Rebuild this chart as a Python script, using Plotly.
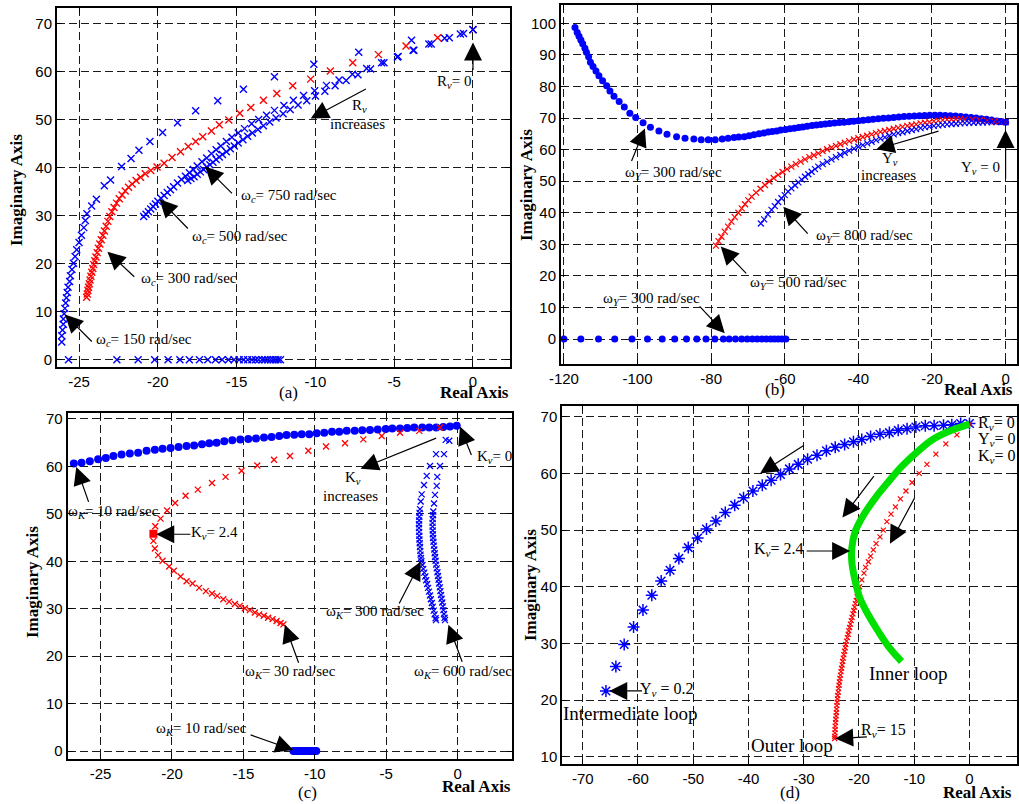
import plotly.graph_objects as go

W, H = 1019, 804
BLUE = '#0000ff'
RED = '#ff0000'
GREEN = '#00e000'

# ---------------- Panel (a) data ----------------
a150_re = [-26.1, -26.1, -26.05, -26.0, -26.0, -25.95, -25.9, -25.85, -25.8, -25.75, -25.7, -25.6, -25.55,
           -25.45, -25.35, -25.25, -25.15, -25.0, -24.85, -24.7, -24.6, -24.5, -24.2, -23.9, -23.4, -23.0,
           -22.3, -21.7, -21.2, -20.5, -19.7, -18.75, -17.6, -16.2, -14.57, -12.6, -10.1, -7.25, -3.9, 0.0]
a150_im = [3.7, 5.0, 6.2, 7.4, 8.5, 9.6, 10.7, 11.8, 12.9, 14.0, 15.1, 16.3, 17.5,
           18.8, 20.1, 21.5, 22.9, 24.4, 25.9, 27.5, 29.0, 30.4, 32.0, 33.4, 36.2, 37.4,
           40.2, 41.9, 43.6, 45.4, 47.3, 49.3, 51.8, 53.9, 56.3, 58.9, 61.5, 64.0, 66.5, 68.7]
a150_real_re = [-25.67, -22.6, -21.25, -20.2, -19.35, -18.6, -18.0, -17.36, -16.83, -16.34, -15.92, -15.52,
                -15.16, -14.84, -14.55, -14.3, -14.03, -13.8, -13.6, -13.38, -13.2, -13.02, -12.85, -12.69,
                -12.52, -12.37, -12.22]
a300_re = [-24.52, -24.48, -24.44, -24.40, -24.35, -24.30, -24.25, -24.19, -24.13, -24.07, -24.0, -23.93,
           -23.85, -23.77, -23.68, -23.59, -23.49, -23.39, -23.28, -23.17, -23.05, -22.92, -22.78, -22.62,
           -22.45, -22.27, -22.07, -21.86, -21.63, -21.38, -21.1, -20.8, -20.45, -20.05, -19.6, -19.1,
           -18.56, -18.07, -17.6, -17.15, -16.6, -16.1, -15.5, -14.8, -14.1, -13.3, -12.45, -11.44, -10.3,
           -9.05, -7.63, -6.0, -4.25, -2.24, 0.0]
a300_im = [13.0, 13.7, 14.4, 15.1, 15.8, 16.6, 17.4, 18.2, 19.0, 19.8, 20.6, 21.4,
           22.3, 23.2, 24.1, 25.0, 25.9, 26.8, 27.8, 28.8, 29.8, 30.8, 31.7, 32.6,
           33.5, 34.3, 35.1, 35.9, 36.6, 37.3, 38.0, 38.7, 39.4, 40.1, 40.9, 42.1,
           43.3, 44.4, 45.4, 46.4, 47.6, 48.9, 49.9, 51.3, 52.5, 54.0, 55.4, 57.0, 58.4,
           60.1, 61.8, 63.5, 65.3, 67.0, 68.7]
a500_re = [-20.9, -20.75, -20.6, -20.45, -20.3, -20.15, -20.0, -19.8, -19.6, -19.4, -19.2, -19.0, -18.75,
           -18.5, -18.25, -18.0, -17.75, -17.5, -17.2, -16.9, -16.6, -16.3, -16.0, -15.65, -15.3, -14.9,
           -14.5, -14.05, -13.6, -13.1, -12.6, -12.0, -11.4, -10.75, -10.05, -9.3, -8.5, -7.65, -6.75,
           -5.8, -4.8, -3.75, -2.65, -1.5, -0.6, 0.0]
a500_im = [29.8, 30.3, 30.8, 31.4, 31.9, 32.4, 33.0, 33.6, 34.2, 34.8, 35.4, 36.0, 36.8,
           37.5, 38.2, 38.9, 39.6, 40.3, 41.2, 42.0, 42.9, 43.7, 44.5, 45.4, 46.3, 47.2,
           48.1, 49.1, 50.0, 50.9, 51.9, 52.9, 54.0, 55.0, 56.0, 57.1, 58.2, 59.4, 60.6,
           61.8, 63.0, 64.4, 65.7, 67.0, 67.9, 68.7]
a750_re = [-18.1, -17.9, -17.7, -17.5, -17.3, -17.1, -16.9, -16.7, -16.5, -16.3, -16.1, -15.9, -15.65,
           -15.4, -15.15, -14.9, -14.6, -14.3, -14.0, -13.65, -13.3, -12.9, -12.5, -12.05, -11.6, -11.1,
           -10.55, -10.0, -9.4, -8.75, -8.05, -7.3, -6.5, -5.65, -4.75, -3.8, -2.8, -1.8, -0.8, 0.0]
a750_im = [37.3, 37.7, 38.1, 38.6, 39.1, 39.6, 40.1, 40.6, 41.1, 41.7, 42.2, 42.7, 43.3,
           43.9, 44.5, 45.1, 45.8, 46.5, 47.2, 47.9, 48.7, 49.5, 50.3, 51.2, 52.1, 53.0,
           53.9, 54.9, 55.9, 57.0, 58.1, 59.3, 60.5, 61.8, 63.1, 64.4, 65.7, 66.9, 67.8, 68.7]

# ---------------- Panel (b) data ----------------
b300_re = [-117.0, -116.4, -115.9, -115.4, -114.9, -114.3, -113.9, -113.3, -112.8, -112.1, -111.3, -110.5,
           -109.5, -108.4, -107.5, -106.4, -105.0, -103.6, -102.1, -100.5, -98.5, -96.5, -94.2, -92.0,
           -89.4, -87.1, -84.7, -82.7, -80.8, -78.9, -77.0, -75.4, -73.8, -72.5, -71.0, -69.7, -68.4,
           -67.0, -65.7, -64.5, -63.4, -62.2, -61.1, -59.8, -58.6, -57.4, -56.2, -55.1, -53.9, -52.6,
           -51.4, -50.2, -49.0, -47.8, -46.5, -45.2, -43.9, -42.6, -41.3, -40.0, -38.7, -37.3, -36.0,
           -34.6, -33.2, -31.8, -30.4, -29.0, -27.6, -26.2, -24.8, -23.4, -22.0, -20.6, -19.2, -17.8,
           -16.4, -15.0, -13.6, -12.2, -10.8, -9.4, -8.0, -6.6, -5.2, -3.8, -2.4, -1.2, 0.0]
b300_im = [98.7, 97.1, 95.9, 94.7, 93.5, 92.1, 90.8, 89.4, 87.7, 86.3, 84.9, 83.4,
           81.8, 80.2, 78.6, 76.9, 75.2, 73.5, 71.5, 70.2, 68.5, 67.1, 65.9, 64.9,
           64.1, 63.6, 63.4, 63.1, 63.1, 63.1, 63.4, 63.6, 63.8, 64.0, 64.1, 64.4, 64.7,
           65.0, 65.3, 65.6, 65.7, 65.9, 66.2, 66.4, 66.6, 66.8, 67.0, 67.2, 67.4, 67.6,
           67.8, 67.95, 68.1, 68.25, 68.4, 68.55, 68.7, 68.85, 69.0, 69.15, 69.3, 69.45, 69.6,
           69.75, 69.9, 70.05, 70.2, 70.35, 70.45, 70.55, 70.65, 70.75, 70.8, 70.85, 70.85, 70.85,
           70.8, 70.75, 70.65, 70.5, 70.35, 70.2, 70.0, 69.8, 69.6, 69.35, 69.1, 68.9, 68.7]
b300_real_re = [-120.0, -115.4, -110.6, -106.2, -101.5, -97.3, -93.3, -89.9, -86.7, -83.9, -81.4, -79.0,
                -76.7, -75.1, -73.4, -71.7, -70.2, -68.8, -67.5, -66.2, -65.0, -63.8, -62.8, -61.8,
                -60.8, -59.7]
b500_re = [-78.7, -78.0, -77.2, -76.3, -75.4, -74.5, -73.6, -72.6, -71.7, -70.8, -69.9, -69.0, -67.8,
           -66.6, -65.4, -64.2, -63.0, -61.8, -60.6, -59.4, -58.2, -57.0, -55.7, -54.5, -53.3, -52.1,
           -50.9, -49.7, -48.5, -47.3, -46.1, -44.9, -43.7, -42.5, -41.2, -40.0, -38.8, -37.6, -36.4,
           -35.2, -34.0, -32.8, -31.6, -30.4, -29.2, -28.0, -26.7, -25.5, -24.3, -23.1, -21.9, -20.7,
           -19.5, -18.3, -17.1, -15.9, -14.7, -13.5, -12.3, -11.1, -9.0, -7.0, -5.0, -3.0, -1.5, 0.0]
b500_im = [29.6, 31.0, 32.4, 34.0, 35.6, 37.2, 38.6, 40.0, 41.4, 42.7, 43.9, 45.1, 46.4,
           47.6, 48.8, 49.9, 51.0, 52.0, 52.9, 53.8, 54.6, 55.4, 56.2, 56.9, 57.6, 58.2,
           58.8, 59.5, 60.1, 60.7, 61.2, 61.7, 62.2, 62.7, 63.2, 63.6, 64.0, 64.4, 64.8,
           65.2, 65.6, 65.9, 66.2, 66.6, 66.9, 67.2, 67.5, 67.8, 68.0, 68.3, 68.5, 68.7,
           69.0, 69.2, 69.35, 69.5, 69.6, 69.65, 69.7, 69.6, 69.5, 69.3, 69.1, 68.9, 68.8, 68.7]
b800_re = [-66.5, -65.6, -64.6, -63.6, -62.7, -61.8, -60.9, -60.0, -59.1, -58.2, -57.2, -56.3, -55.4,
           -54.5, -53.6, -52.7, -51.8, -50.9, -49.7, -48.5, -47.3, -46.1, -44.9, -43.7, -42.5, -41.2,
           -40.0, -38.8, -37.6, -36.4, -35.2, -34.0, -32.8, -31.6, -30.4, -29.2, -28.0, -26.7, -25.5,
           -24.3, -23.1, -21.9, -20.7, -19.5, -18.3, -17.1, -15.9, -14.7, -13.5, -12.3, -11.1, -9.9,
           -8.7, -7.4, -6.2, -5.0, -3.8, -2.5, -1.2, 0.0]
b800_im = [36.6, 37.9, 39.5, 40.9, 42.1, 43.4, 44.6, 45.6, 46.7, 47.7, 48.7, 49.6, 50.5,
           51.4, 52.2, 53.0, 53.8, 54.6, 55.4, 56.1, 56.9, 57.6, 58.3, 59.0, 59.7, 60.3,
           60.9, 61.4, 62.0, 62.5, 63.0, 63.5, 63.9, 64.4, 64.8, 65.2, 65.5, 65.9, 66.2,
           66.5, 66.8, 67.1, 67.3, 67.5, 67.7, 67.85, 68.0, 68.1, 68.2, 68.3, 68.4, 68.45,
           68.5, 68.6, 68.6, 68.65, 68.7, 68.7, 68.75, 68.8]

# ---------------- Panel (c) data ----------------
c10_re = [-26.87, -26.33, -25.75, -25.17, -24.63, -24.1, -23.53, -22.95, -22.37, -21.78, -21.2, -20.66,
          -20.1, -19.54, -18.98, -18.45, -17.9, -17.39, -16.88, -16.34, -15.78, -15.22, -14.66, -14.12,
          -13.56, -13.03, -12.49, -11.98, -11.44, -10.92, -10.39, -9.87, -9.34, -8.8, -8.29, -7.77,
          -7.21, -6.68, -6.14, -5.6, -5.04, -4.58, -4.04, -3.53, -3.04, -2.48, -1.99, -1.5, -1.01,
          -0.54, -0.07]
c10_im = [60.6, 60.8, 61.1, 61.5, 61.8, 62.2, 62.5, 62.7, 62.9, 63.3, 63.5, 63.7,
          63.9, 64.1, 64.3, 64.4, 64.7, 64.9, 65.0, 65.3, 65.5, 65.7, 65.8, 65.9,
          66.1, 66.2, 66.4, 66.6, 66.7, 66.8, 66.8, 67.0, 67.1, 67.3, 67.3, 67.5,
          67.5, 67.6, 67.7, 67.8, 67.9, 68.0, 68.0, 68.1, 68.2, 68.2, 68.2, 68.2, 68.3,
          68.4, 68.6]
c10_real_re = [-11.5, -11.4, -11.3, -11.2, -11.1, -11.0, -10.9, -10.8, -10.7, -10.6, -10.5, -10.4,
               -10.3, -10.2, -10.1, -10.0, -9.9]
c30_re = [-1.24, -2.69, -4.04, -5.32, -6.61, -7.89, -9.22, -10.46, -11.74, -12.86, -14.03, -15.13,
          -16.25, -17.2, -18.19, -19.05, -19.78, -20.34, -20.8, -21.17, -21.3, -21.3, -21.2, -20.97,
          -20.66, -20.2, -19.87, -19.4, -18.98, -18.56, -18.1, -17.63, -17.2, -16.83, -16.41, -16.0,
          -15.6, -15.25, -14.9, -14.55, -14.2, -13.9, -13.57, -13.27, -12.96, -12.68, -12.4, -12.2]
c30_im = [68.2, 67.5, 67.1, 66.4, 65.7, 64.9, 64.2, 63.3, 62.2, 61.4, 60.2, 59.1,
          57.8, 56.5, 55.1, 53.8, 52.3, 50.7, 49.0, 47.4, 45.8, 44.3, 42.7, 41.3,
          40.1, 38.9, 38.0, 36.8, 35.8, 35.3, 34.4, 33.7, 33.2, 32.7, 32.0, 31.5,
          31.0, 30.6, 30.1, 29.7, 29.2, 28.8, 28.5, 28.1, 27.8, 27.4, 27.0, 26.7]
c_kv24_re = [-21.3]
c_kv24_im = [45.8]
c300_re = [-0.84, -1.52, -1.94, -2.17, -2.36, -2.52, -2.59, -2.64, -2.67, -2.69, -2.7, -2.71, -2.71,
           -2.7, -2.69, -2.68, -2.66, -2.64, -2.62, -2.6, -2.57, -2.54, -2.47, -2.41, -2.34, -2.27,
           -2.21, -2.14, -2.08, -2.01, -1.94, -1.88, -1.81, -1.75, -1.68, -1.62, -1.55, -1.52]
c300_im = [65.6, 62.6, 60.1, 58.0, 56.1, 54.1, 52.6, 51.0, 50.2, 49.4, 48.6, 47.8, 47.0,
           46.2, 45.4, 44.6, 43.8, 43.0, 42.2, 41.4, 40.7, 40.0, 39.2, 38.4, 37.6, 36.8,
           36.0, 35.2, 34.4, 33.6, 32.8, 32.0, 31.2, 30.4, 29.6, 28.8, 28.0, 27.6]
c600_re = [-0.59, -0.96, -1.24, -1.43, -1.47, -1.59, -1.66, -1.71, -1.73, -1.75, -1.76, -1.76, -1.75,
           -1.74, -1.72, -1.7, -1.67, -1.64, -1.61, -1.58, -1.55, -1.51, -1.47, -1.42, -1.38, -1.34,
           -1.3, -1.25, -1.21, -1.17, -1.13, -1.08, -1.04, -1.0, -0.96, -0.92, -0.89]
c600_im = [65.4, 62.6, 60.1, 57.8, 55.9, 54.0, 52.2, 50.5, 49.7, 48.9, 48.1, 47.3, 46.5,
           45.7, 44.9, 44.1, 43.3, 42.5, 41.7, 40.9, 40.1, 39.3, 38.5, 37.7, 36.9, 36.1,
           35.3, 34.5, 33.7, 32.9, 32.1, 31.3, 30.5, 29.7, 28.9, 28.1, 27.6]

# ---------------- Panel (d) data ----------------
d_int_re = [-65.8, -64.0, -62.5, -60.8, -59.1, -57.5, -55.8, -54.2, -52.6, -50.9, -49.2, -47.6, -45.9,
            -44.2, -42.5, -40.9, -39.2, -37.5, -35.9, -34.2, -32.6, -31.0, -29.3, -27.6, -25.9, -24.3,
            -22.6, -21.0, -19.5, -17.9, -16.2, -14.5, -12.9, -11.3, -9.7, -8.0, -6.4, -4.7, -3.2, -1.6, 0.0]
d_int_im = [21.6, 25.9, 29.8, 32.9, 35.9, 38.5, 41.0, 42.9, 45.0, 46.9, 48.6, 50.2, 51.6,
            53.1, 54.4, 55.7, 56.9, 57.9, 58.8, 59.8, 60.8, 61.6, 62.5, 63.2, 64.0, 64.6,
            65.1, 65.6, 66.0, 66.5, 66.9, 67.2, 67.6, 67.9, 68.2, 68.4, 68.4, 68.5, 68.6, 68.8, 68.8]
d_in_re = [0.0, -3.8, -6.8, -9.8, -12.3, -14.7, -17.1, -19.2, -20.7, -21.3, -21.3, -20.8, -19.8, -18.3,
           -16.5, -14.4, -12.3]
d_in_im = [68.7, 67.4, 65.9, 63.5, 61.2, 58.5, 55.6, 52.6, 49.7, 46.8, 44.4, 41.5, 37.9, 35.0,
           32.1, 29.1, 26.8]
d_out_re = [0.0, -2.28, -4.28, -6.08, -7.7, -9.1, -10.4, -11.5, -12.5, -13.4, -14.2, -14.95, -15.6,
            -16.2, -16.9, -17.4, -17.9, -18.3, -18.8, -19.1, -19.5,
            -19.9, -20.05, -20.2, -20.35, -20.5, -20.65, -20.8, -20.95, -21.1, -21.25, -21.4, -21.55,
            -21.7, -21.85, -21.95, -22.1, -22.25, -22.4, -22.5, -22.6, -22.75, -22.85, -22.95, -23.05,
            -23.15, -23.25, -23.35, -23.45, -23.55, -23.6, -23.7, -23.75, -23.85, -23.9, -23.95, -24.0,
            -24.05, -24.1, -24.15, -24.2, -24.25, -24.3, -24.32, -24.35, -24.38, -24.4]
d_out_im = [68.7, 66.8, 65.2, 63.4, 61.6, 60.0, 58.4, 56.9, 55.5, 54.1, 52.8, 51.5, 50.0,
            48.8, 47.6, 46.5, 45.4, 44.4, 43.4, 42.4, 41.2,
            40.0, 39.4, 38.8, 38.2, 37.6, 37.0, 36.4, 35.8, 35.2, 34.6, 34.0, 33.4,
            32.8, 32.2, 31.6, 31.0, 30.4, 29.8, 29.2, 28.6, 28.0, 27.4, 26.8, 26.2,
            25.6, 25.0, 24.4, 23.8, 23.2, 22.6, 22.0, 21.4, 20.8, 20.2, 19.6, 19.0,
            18.4, 17.8, 17.2, 16.6, 16.0, 15.4, 14.8, 14.2, 13.6, 13.2]

# ---------------- Ticks ----------------
a_xticks = [-25, -20, -15, -10, -5, 0]
a_yticks = [0, 10, 20, 30, 40, 50, 60, 70]
b_xticks = [-120, -100, -80, -60, -40, -20, 0]
b_yticks = [0, 10, 20, 30, 40, 50, 60, 70, 80, 90, 100]
c_xticks = [-25, -20, -15, -10, -5, 0]
c_yticks = [0, 10, 20, 30, 40, 50, 60, 70]
d_xticks = [-70, -60, -50, -40, -30, -20, -10, 0]
d_yticks = [10, 20, 30, 40, 50, 60, 70]


def px(xp, yp):
    return xp / W, 1 - yp / H


fig = go.Figure()


def xs(re, im, color, ax, size=6, lw=1.3):
    fig.add_trace(go.Scatter(x=re, y=[0] * len(re) if im is None else im, mode='markers',
                             xaxis=ax[0], yaxis=ax[1],
                             marker=dict(symbol='x-thin-open', size=size, color=color,
                                         line=dict(color=color, width=lw))))


def dots(re, im, color, ax, size=7):
    fig.add_trace(go.Scatter(x=re, y=[0] * len(re) if im is None else im, mode='markers',
                             xaxis=ax[0], yaxis=ax[1],
                             marker=dict(symbol='circle', size=size, color=color, line=dict(width=0))))


A = ('x', 'y'); B = ('x2', 'y2'); C = ('x3', 'y3'); D = ('x4', 'y4')

# (a)
xs(a150_re, a150_im, BLUE, A, 7, 1.4)
xs(a150_real_re, None, BLUE, A, 7, 1.4)
xs(a300_re, a300_im, RED, A, 7, 1.4)
xs(a500_re, a500_im, BLUE, A, 7, 1.4)
xs(a750_re, a750_im, BLUE, A, 7, 1.4)
# (b)
dots(b300_re, b300_im, BLUE, B, 7)
dots(b300_real_re, None, BLUE, B, 7)
xs(b500_re, b500_im, RED, B, 6, 1.2)
xs(b800_re, b800_im, BLUE, B, 6, 1.2)
# (c)
dots(c10_re, c10_im, BLUE, C, 8)
dots(c10_real_re, None, BLUE, C, 8)
xs(c30_re, c30_im, RED, C, 6, 1.3)
fig.add_trace(go.Scatter(x=c_kv24_re, y=c_kv24_im, mode='markers', xaxis='x3', yaxis='y3',
                         marker=dict(symbol='square', size=8, color=RED)))
xs(c300_re, c300_im, BLUE, C, 6, 1.3)
xs(c600_re, c600_im, BLUE, C, 6, 1.3)
# (d)
fig.add_trace(go.Scatter(x=d_int_re, y=d_int_im, mode='markers', xaxis='x4', yaxis='y4',
                         marker=dict(symbol='asterisk-open', size=10, color=BLUE,
                                     line=dict(color=BLUE, width=1.5))))
xs(d_out_re, d_out_im, RED, D, 5, 1.2)
fig.add_trace(go.Scatter(x=d_in_re, y=d_in_im, mode='lines', xaxis='x4', yaxis='y4',
                         line=dict(color=GREEN, width=7, shape='spline')))

# ---------------- Axes ----------------
def axis(rng, dom, ticks, anchor):
    return dict(range=rng, domain=dom, anchor=anchor, tickmode='array', tickvals=ticks,
                ticktext=[str(t) for t in ticks], showgrid=True, gridcolor='#1a1a1a',
                griddash='8px,4px', gridwidth=1, zeroline=False, showline=True, linecolor='black',
                linewidth=2, mirror='ticks', ticks='inside', ticklen=5, tickcolor='black',
                automargin=False,
                tickfont=dict(family='Liberation Sans', size=15, color='black'))


fig.update_layout(
    template='none',
    width=W, height=H, margin=dict(l=0, r=0, t=0, b=0, autoexpand=False), showlegend=False,
    plot_bgcolor='white', paper_bgcolor='white',
    font=dict(family='Liberation Serif', color='black'),
    xaxis=axis([-26.4, 2.35], [57 / W, 510 / W], a_xticks, 'y'),
    yaxis=axis([-1.5, 73.2], [1 - 367 / H, 1 - 8 / H], a_yticks, 'x'),
    xaxis2=axis([-120.8, 3.1], [561 / W, 1017 / W], b_xticks, 'y2'),
    yaxis2=axis([-7.9, 105.8], [1 - 364 / H, 1 - 5 / H], b_yticks, 'x2'),
    xaxis3=axis([-27.3, 3.8], [67.7 / W, 512 / W], c_xticks, 'y3'),
    yaxis3=axis([-1.75, 71.2], [1 - 759.3 / H, 1 - 413.3 / H], c_yticks, 'x3'),
    xaxis4=axis([-73.7, 8.6], [562.3 / W, 1017 / W], d_xticks, 'y4'),
    yaxis4=axis([8.65, 71.9], [1 - 764.3 / H, 1 - 406 / H], d_yticks, 'x4'),
)

ann = []


def arrow(ax, hx, hy, tx, ty):
    ann.append(dict(xref=ax[0], yref=ax[1], axref=ax[0], ayref=ax[1], x=hx, y=hy, ax=tx, ay=ty,
                    text='', showarrow=True, arrowhead=2, arrowsize=3.0, arrowwidth=1.2,
                    arrowcolor='black', standoff=0))


def label(ax, x, y, text, size=15, xanchor='center'):
    ann.append(dict(xref=ax[0], yref=ax[1], x=x, y=y, text=text, showarrow=False,
                    xanchor=xanchor, yanchor='middle',
                    font=dict(family='Liberation Serif', size=size, color='black')))


def plabel(xp, yp, text, size=17, bold=False, angle=0):
    x, y = px(xp, yp)
    ann.append(dict(xref='paper', yref='paper', x=x, y=y, text=('<b>%s</b>' % text) if bold else text,
                    showarrow=False, xanchor='center', yanchor='middle', textangle=angle,
                    font=dict(family='Liberation Serif', size=size, color='black')))


OMC = 'ω<sub><i>c</i></sub>'
OMY = 'ω<sub><i>Y</i></sub>'
OMK = 'ω<sub><i>K</i></sub>'

# (a) annotations
arrow(A, 0, 66.0, 0, 60.0)
label(A, -1.2, 57.9, 'R<sub><i>v</i></sub>= 0')
arrow(A, -10.3, 50.2, -6.7, 56.5)
label(A, -7.2, 52.8, 'R<sub><i>v</i></sub>')
label(A, -7.3, 49.1, 'increases')
arrow(A, -17.0, 40.2, -15.2, 34.3)
label(A, -11.7, 34.0, OMC + '= 750 rad/sec')
arrow(A, -19.9, 33.4, -18.0, 27.0)
label(A, -14.8, 25.6, OMC + '= 500 rad/sec')
arrow(A, -23.2, 22.5, -21.4, 17.0)
label(A, -18.0, 16.8, OMC + '= 300 rad/sec')
arrow(A, -25.9, 9.4, -24.1, 3.5)
label(A, -20.9, 4.2, OMC + '= 150 rad/sec')

# (b) annotations
arrow(B, -98.0, 66.7, -101.8, 55.9)
label(B, -90.3, 52.7, OMY + '= 300 rad/sec')
arrow(B, -60.4, 41.9, -53.4, 32.9)
label(B, -38.4, 32.6, OMY + '= 800 rad/sec')
arrow(B, -77.4, 29.3, -70.1, 20.3)
label(B, -56.3, 17.8, OMY + '= 500 rad/sec')
label(B, -96.2, 12.6, OMY + '= 300 rad/sec')
arrow(B, -76.3, 1.8, -83.5, 10.8)
arrow(B, -35.1, 60.1, -17.8, 66.0)
label(B, -31.4, 56.9, 'Y<sub><i>v</i></sub>')
label(B, -31.9, 52.0, 'increases')
arrow(B, 0, 66.2, 0, 50.4)
label(B, -6.7, 54.1, 'Y<sub><i>v</i></sub> = 0')

# (c) annotations
arrow(C, -26.7, 59.9, -25.8, 52.2)
label(C, -24.1, 50.3, OMK + '= 10 rad/sec')
arrow(C, -21.1, 45.7, -18.6, 45.7)
label(C, -17.0, 45.9, 'K<sub><i>v</i></sub>= 2.4')
arrow(C, -12.1, 26.6, -11.1, 18.3)
label(C, -11.7, 16.6, OMK + '= 30 rad/sec')
arrow(C, -2.6, 39.9, -4.15, 30.8)
label(C, -5.8, 29.4, OMK + '= 300 rad/sec')
arrow(C, -0.65, 26.6, 0.35, 18.5)
label(C, 0.4, 16.6, OMK + '= 600 rad/sec')
label(C, -17.9, 4.6, OMK + '= 10 rad/sec')
arrow(C, -11.5, 0.2, -14.6, 3.5)
arrow(C, -6.8, 59.5, -1.4, 66.1)
label(C, -7.35, 57.5, 'K<sub><i>v</i></sub>')
label(C, -7.5, 53.8, 'increases')
arrow(C, 0.16, 68.4, 1.0, 62.1)
label(C, 1.2, 62.0, 'K<sub><i>v</i></sub>= 0', xanchor='left')

# (d) annotations
arrow(D, -37.9, 60.0, -29.75, 65.1)
arrow(D, -23.0, 52.2, -17.1, 59.8)
arrow(D, -14.4, 47.6, -9.8, 55.9)
arrow(D, -21.6, 46.3, -29.75, 46.3)
label(D, -34.5, 46.5, 'K<sub><i>v</i></sub>= 2.4', 16)
arrow(D, -65.2, 21.6, -59.0, 21.6)
label(D, -54.7, 21.9, 'Y<sub><i>v</i></sub> = 0.2', 16)
arrow(D, -24.3, 13.2, -18.3, 13.5)
label(D, -15.6, 14.7, 'R<sub><i>v</i></sub>= 15', 16)
label(D, -61.3, 17.6, 'Intermediate loop', 19)
label(D, -32.2, 11.9, 'Outer loop', 19)
label(D, -11.0, 24.7, 'Inner loop', 19)
label(D, 1.2, 68.8, 'R<sub><i>v</i></sub>= 0', 16, 'left')
label(D, 1.2, 65.9, 'Y<sub><i>v</i></sub>= 0', 16, 'left')
label(D, 1.2, 62.9, 'K<sub><i>v</i></sub>= 0', 16, 'left')

# Axis titles and panel labels
plabel(17, 190, 'Imaginary Axis', 17, True, -90)
plabel(527, 185, 'Imaginary Axis', 17, True, -90)
plabel(32, 582, 'Imaginary Axis', 17, True, -90)
plabel(530, 585, 'Imaginary Axis', 17, True, -90)
plabel(474, 392, 'Real Axis', 17, True)
plabel(978, 390, 'Real Axis', 17, True)
plabel(476, 786, 'Real Axis', 17, True)
plabel(977, 792, 'Real Axis', 17, True)
plabel(288, 392, '(a)', 17)
plabel(775, 390, '(b)', 17)
plabel(307, 792, '(c)', 17)
plabel(790, 792, '(d)', 17)

fig.update_layout(annotations=ann)
fig.write_html('out.html', config={'displayModeBar': False},
               post_script="document.body.style.margin='0px';document.body.style.overflow='hidden';")
